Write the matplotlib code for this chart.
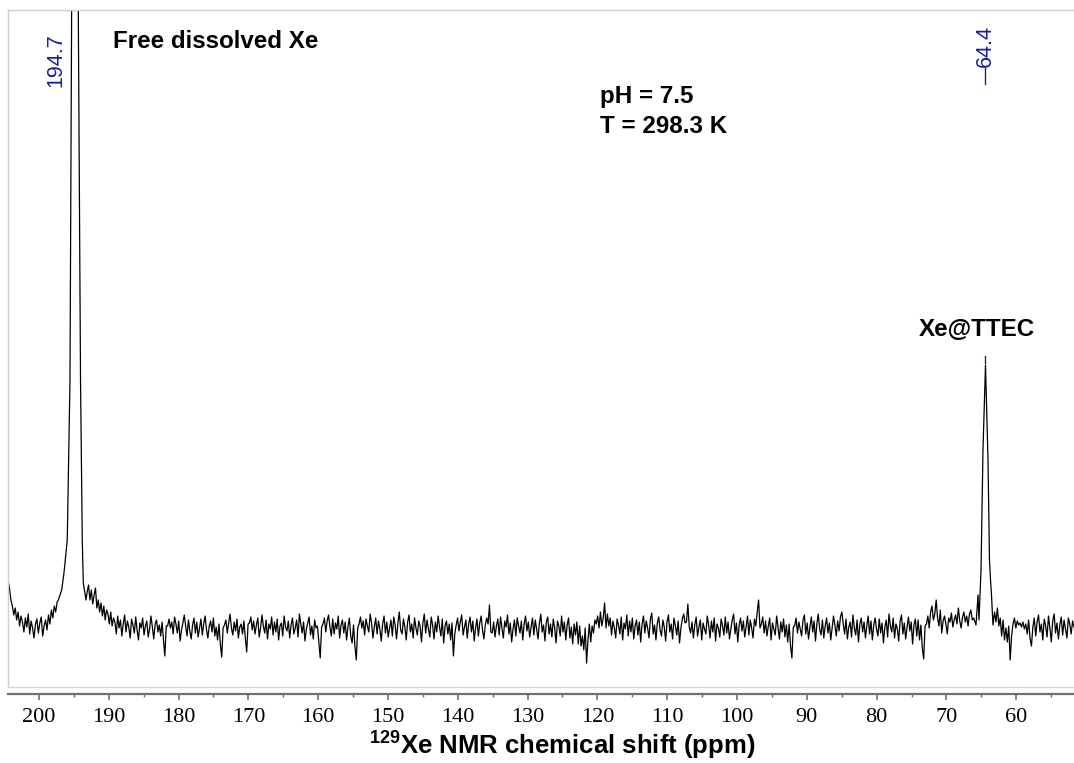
import matplotlib.pyplot as plt
import numpy as np

plt.rcParams['mathtext.fontset'] = 'custom'
plt.rcParams['mathtext.bf'] = 'Liberation Sans:bold'
plt.rcParams['mathtext.rm'] = 'Liberation Sans'

# spectrum, intensity in arbitrary units (baseline = 0)
# noise left of the free Xe peak (204.4 -> 197.4 ppm)
noise_left = [50, 42, 30, 24, 15, 22, 10, 18, 4, 14, 8, -2, 12, 3, 16, -4,
              9, 2, -8, 6, 11, -3, 7, 13, -6, 4, 10, 0, 15, 6, 20, 12, 24,
              18, 28]

# free dissolved Xe peak (goes off scale)
peak1_ppm = [197.23, 196.75, 196.42, 195.95, 195.56, 195.32, 194.84,
             194.37, 194.05, 193.80, 193.65, 193.27]
peak1_int = [30, 40, 57, 90, 250, 620, 2000, 620, 250, 90, 47, 30]

# noise between the two peaks (193.1 -> 66.1 ppm)
noise_mid = [
    38, 45, 30, 40, 26, 35, 42, 22, 30, 18, 27, 14, 24, 10, 20, 16, 6, 18, 4, 12,
    8, -4, 14, 2, 10, -6, 6, 15, -2, 9, 3, -8, 11, 5, -3, 13, 0, -10, 7, 2,
    12, -5, 4, 9, -7, 1, 14, 3, -9, 6, 10, -2, 5, -6, 8, -10, -26, 4, 4, 11,
    2, 8, -4, 13, 6, -3, 9, -11, 0, 7, 15, 4, -6, 10, -1, -9, 5, 12, -3, 8,
    -7, 2, 11, -5, 6, 14, 1, -8, 4, 9, -2, 12, -6, 3, -10, 6, -14, -27, 2, 5,
    10, -3, 7, 16, 2, -5, 8, -1, 11, -8, 3, 6, -4, 9, -8, -22, 6, 7, 13, 0,
    9, -4, 5, 12, -7, 2, 15, 4, -3, 10, -9, 6, 1, 13, -5, 8, -2, 11, -10, 4,
    7, -6, 14, 3, -1, 9, -8, 5, 12, -4, 2, 10, -7, 16, 6, -3, 8, -11, 1, 7,
    13, -5, 4, -9, 10, 2, 4, -12, -28, 3, 6, 12, -2, 9, 15, 3, -6, 11, -4, 7,
    1, 14, -8, 5, 10, -3, 8, -10, 3, 12, -6, -13, 5, -16, -30, 2, 6, 13, 2, 9,
    -5, 11, 4, -2, 16, 7, -8, 3, 12, -4, 9, 1, -11, 6, 14, -3, 8, -7, 2, 10,
    -6, 13, 5, -9, 7, 18, 0, -4, 11, 3, -10, 8, 15, -2, 6, -8, 12, 2, -5, 9,
    4, -12, 7, 16, -3, 10, 1, -7, 13, 5, -9, 8, -2, 14, 3, -6, 11, -13, 4, 9,
    -4, 6, -10, 7, -26, -4, 5, 12, -1, 8, 15, -5, 3, 10, -8, 6, 13, -2, 9, -11,
    2, 11, -6, 7, 14, 0, -9, 5, 12, 6, 25, -2, -3, 8, -7, 4, 11, -5, 13, 2,
    -8, 9, 3, 15, -4, 7, -12, 1, 10, -6, 12, 4, -3, 9, -10, 6, 14, -1, 8, -7,
    3, 12, -5, 10, 1, -9, 7, 16, -2, 5, -11, 8, 13, -4, 6, -7, 11, 2, -13, 9,
    4, -6, 14, -2, 8, -10, 5, 12, -8, 3, -14, 6, -5, 8, -14, 4, -16, -6, -20, 2,
    -33, -10, 6, -12, 4, -3, 10, 6, 14, 2, 18, 4, 12, 27, 2, 16, 4, 12, -5, 9,
    2, -8, 11, 5, -4, 13, -10, 7, 1, 15, -6, 9, -2, 12, -9, 4, 10, -5, 8, -12,
    6, 14, -3, 9, 2, -8, 11, 17, -4, 5, -10, 7, 13, 0, -6, 10, 3, -11, 8, 15,
    -2, 6, -9, 12, 4, -5, 9, -13, 2, 11, 16, 7, 8, 26, 3, -3, 8, -8, 5, 13,
    -6, 3, 10, -10, 7, 1, -4, 14, 5, -8, 9, -2, 12, -11, 6, 2, -7, 11, 4, -5,
    13, -3, 8, -9, 1, 10, 16, -4, 7, -12, 5, 12, -1, 9, -7, 3, 14, -5, 10, 2,
    -8, 11, 4, 18, 30, 2, 6, 13, -3, 9, -6, 4, 12, -10, 7, 1, -5, 14, 3, -9,
    8, -2, 11, -7, 5, -12, 6, -16, -28, 3, 4, 12, -3, 8, 1, -6, 10, 15, -4, 7,
    -9, 3, 13, -2, 9, -11, 6, 16, 1, -5, 10, -8, 4, 12, -3, 7, -10, 2, 14, 5,
    -6, 9, -1, 13, 18, 6, -4, 11, -9, 3, 8, -7, 15, 2, -5, 10, -12, 6, 12, -2,
    8, -8, 4, 14, -4, 9, -10, 5, 12, 1, -6, 11, -3, 7, -13, 3, 10, -7, 16, 4,
    -2, 12, -8, 6, 1, -11, 9, 15, -4, 7, -9, 3, 13, -1, 8, -14, 5, 11, -6, 10,
    -10, 5, -18, -29, 4, 6, 14, 2, 18, 24, 10, 16, 30, 12, 4, 20, -3, 9, 14, 6,
    -4, 12, 8, 17, 3, 10, 15, 6, 22, 9, 2, 13, 18, 8, 14, 4, 16, 20, 10, 12,
]

# Xe@TTEC peak
peak2_ppm = [65.76, 65.47, 65.33, 65.04, 64.76, 64.40, 64.04, 63.83,
             63.68, 63.54, 63.33]
peak2_int = [5, 35, 10, 60, 180, 265, 170, 70, 50, 35, 5]

# noise right of the Xe@TTEC peak (63.1 -> 51.7 ppm)
noise_right = [18, 8, 22, 4, 12, -6, 10, -10, 2, -12, 4, -30, -6, 6, 12, 2,
               9, 5, 7, 3, 8, 1, 6, -4, 10, -8, -16, 3, 12, -6, 8, 15, -2, 6,
               -10, 11, 4, -7, 14, 2, -12, 9, 16, -3, 7, -9, 5, 13, -5, 10, 1,
               -8, 12, 6, -4, 9, 3]

tick_ppm = [200, 190, 180, 170, 160, 150, 140, 130, 120, 110, 100, 90, 80, 70, 60]
peak_labels = ['194.7', '64.4']

ppm = np.concatenate([
    np.linspace(204.44, 197.4, len(noise_left)),
    peak1_ppm,
    np.linspace(193.1, 66.1, len(noise_mid)),
    peak2_ppm,
    np.linspace(63.1, 51.72, len(noise_right)),
])
intensity = np.concatenate([noise_left, peak1_int, noise_mid, peak2_int, noise_right])

fig = plt.figure(figsize=(10.74, 7.63), dpi=100)
ax = fig.add_axes([8 / 1074, 1 - 687 / 763, 1066 / 1074, 677 / 763])

ax.plot(ppm, intensity, color='black', linewidth=0.9)
ax.set_xlim(204.44, 51.72)
ax.set_ylim(-57, 620)

# frame
for side in ['top', 'left']:
    ax.spines[side].set_color('#cfcfcf')
    ax.spines[side].set_linewidth(1.0)
ax.spines['right'].set_visible(False)
ax.spines['bottom'].set_position(('outward', 5))
ax.spines['bottom'].set_color('#6f6f6f')
ax.spines['bottom'].set_linewidth(1.6)
ax.plot([0, 1], [0, 0], transform=ax.transAxes, color='#d8d8d8',
        linewidth=1.0, clip_on=False)

ax.set_yticks([])
ax.set_xticks(tick_ppm)
ax.set_xticks(np.arange(55, 205, 5), minor=True)
ax.tick_params(axis='x', which='major', direction='out', length=4, width=1.2,
               color='#6f6f6f', pad=6, labelsize=16)
ax.tick_params(axis='x', which='minor', direction='out', length=2.5, width=1.0,
               color='#6f6f6f')
for lab in ax.get_xticklabels():
    lab.set_fontfamily('Liberation Serif')

fig.text(562 / 1074, 1 - 754 / 763, r'$^{\mathbf{129}}$Xe NMR chemical shift (ppm)',
         ha='center', va='baseline', fontsize=18.5, fontweight='bold',
         family='Liberation Sans')

# annotations
bold = dict(fontsize=17.4, fontweight='bold', family='Liberation Sans', va='baseline')
fig.text(113 / 1074, 1 - 48 / 763, 'Free dissolved Xe', ha='left', **bold)
fig.text(600 / 1074, 1 - 103 / 763, 'pH = 7.5', ha='left', **bold)
fig.text(600 / 1074, 1 - 133 / 763, 'T = 298.3 K', ha='left', **bold)
fig.text(977 / 1074, 1 - 336 / 763, 'Xe@TTEC', ha='center', **bold)

# peak picking labels
blue = '#1b1b9c'
ax.text(197.56, 543, peak_labels[0], rotation=90, ha='center', va='bottom',
        color=blue, fontsize=15.5, family='Liberation Sans')
ax.text(64.4, 563, peak_labels[1], rotation=90, ha='center', va='bottom',
        color=blue, fontsize=15.5, family='Liberation Sans')
ax.plot([64.4, 64.4], [546, 562], color=blue, linewidth=1.0)
ax.plot([64.4, 64.4], [267, 274], color=blue, linewidth=1.0)

plt.savefig('out.png', dpi=100)
